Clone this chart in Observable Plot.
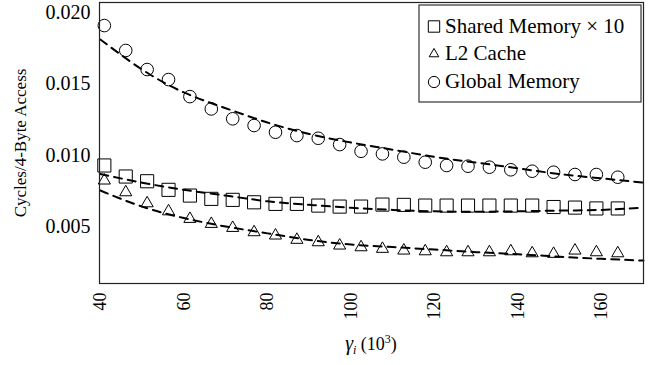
<!DOCTYPE html>
<html><head><meta charset="utf-8">
<script src="https://cdn.jsdelivr.net/npm/d3@7"></script>
<script src="https://cdn.jsdelivr.net/npm/@observablehq/plot@0.6"></script>
<style>
body{margin:0;background:#fff}
#chart{position:relative;width:662px;height:365px}
</style>
</head><body><div id="chart"></div>
<script>
// γ_i in units of 10^3
const gammaK = [40.96, 46.08, 51.2, 56.32, 61.44, 66.56, 71.68, 76.8, 81.92, 87.04, 92.16, 97.28, 102.4,
  107.52, 112.64, 117.76, 122.88, 128, 133.12, 138.24, 143.36, 148.48, 153.6, 158.72, 163.84];
const globalMem = [0.01907, 0.01733, 0.0160, 0.0153, 0.01411, 0.01325, 0.01256, 0.01209, 0.01162, 0.01139,
  0.0112, 0.01076, 0.01029, 0.01011, 0.00988, 0.00953, 0.0093, 0.00925, 0.00918, 0.0090, 0.0089, 0.00883,
  0.00867, 0.00867, 0.00848];
const sharedMemX10 = [0.0093, 0.00853, 0.0082, 0.0076, 0.0072, 0.00697, 0.0069, 0.00673, 0.00662, 0.00662,
  0.0065, 0.00643, 0.00643, 0.00657, 0.00655, 0.0065, 0.0065, 0.0065, 0.0065, 0.0065, 0.0065, 0.0064,
  0.00636, 0.0063, 0.0063];
const l2Cache = [0.00825, 0.00743, 0.00666, 0.0061, 0.00557, 0.00522, 0.00494, 0.00464, 0.00441, 0.00411,
  0.00394, 0.00371, 0.00359, 0.00348, 0.00336, 0.00331, 0.00324, 0.00324, 0.00324, 0.00331, 0.00317,
  0.00313, 0.00336, 0.00324, 0.00317];

// dashed fitted curves, read at these γ values
const fitX = [40, 50, 60, 70, 80, 90, 100, 110, 120, 130, 140, 150, 160, 170];
const globalFit = [0.0181, 0.0160, 0.0144, 0.0133, 0.0123, 0.0115, 0.0109, 0.0104, 0.0099, 0.0095, 0.0091, 0.0087, 0.0084, 0.0081];
const sharedFit = [0.0087, 0.0081, 0.0076, 0.0072, 0.0068, 0.00655, 0.00635, 0.0062, 0.0061, 0.00607, 0.0061, 0.00615, 0.0062, 0.00636];
const l2Fit = [0.00755, 0.00643, 0.00563, 0.00504, 0.00456, 0.0041, 0.00378, 0.0036, 0.00343, 0.00325, 0.0031, 0.00293, 0.00278, 0.00266];

const xTicks = [40, 60, 80, 100, 120, 140, 160];
const yTicks = [0.005, 0.010, 0.015, 0.020];
const seriesNames = ["Shared Memory \u00d7 10", "L2 Cache", "Global Memory"];
const yLabel = "Cycles/4-Byte Access";

const toRows = (ys, name) => ys.map((v, i) => ({x: gammaK[i], y: v, s: name}));
const fitRows = (ys, name) => ys.map((v, i) => ({x: fitX[i], y: v, s: name}));

const M = {top: 2, bottom: 82, left: 99, right: 19};
const W = 662, H = 365;
const FONT = "'Liberation Serif', 'Times New Roman', serif";

const plot = Plot.plot({
  width: W, height: H,
  marginTop: M.top, marginBottom: M.bottom, marginLeft: M.left, marginRight: M.right,
  style: {fontFamily: FONT, fontSize: "18px", color: "#000", background: "#fff"},
  x: {domain: [39.8, 170]},
  y: {domain: [0.00106, 0.02068]},
  marks: [
    Plot.axisY({ticks: yTicks, tickFormat: d => d.toFixed(3), tickSize: 0, tickPadding: 9, fontSize: 20, label: null}),
    Plot.axisX({ticks: xTicks, tickSize: 0, tickPadding: 9, tickRotate: -90, fontSize: 18, label: null}),
    Plot.line([...fitRows(globalFit, seriesNames[2]), ...fitRows(sharedFit, seriesNames[0]), ...fitRows(l2Fit, seriesNames[1])],
      {x: "x", y: "y", z: "s", stroke: "#000", strokeWidth: 2, strokeDasharray: "8,6", curve: "natural"}),
    Plot.dot(toRows(globalMem, seriesNames[2]), {x: "x", y: "y", symbol: "circle", r: 6.3, fill: "none", stroke: "#000", strokeWidth: 1}),
    Plot.dot(toRows(sharedMemX10, seriesNames[0]), {x: "x", y: "y", symbol: "square", r: 7.4, fill: "none", stroke: "#000", strokeWidth: 1}),
    Plot.dot(toRows(l2Cache, seriesNames[1]), {x: "x", y: "y", symbol: "triangle", r: 4.5, fill: "none", stroke: "#000", strokeWidth: 1}),
    Plot.frame({stroke: "#222", strokeWidth: 1.2}),
    Plot.text([yLabel], {frameAnchor: "left", textAnchor: "middle", rotate: -90, dx: -79, fontSize: 17, fill: "#000"})
  ]
});
document.getElementById("chart").appendChild(plot);

const svg = d3.select(plot);
// x-axis title: γ_i (10^3)
const cx = (M.left + (W - M.right)) / 2;
const xt = svg.append("text").attr("x", cx).attr("y", 350).attr("text-anchor", "middle")
  .attr("font-family", FONT).attr("font-size", 18).attr("fill", "#000");
xt.append("tspan").attr("font-style", "italic").attr("font-size", 20).text("\u03b3");
xt.append("tspan").attr("font-style", "italic").attr("font-size", 12).attr("dy", 4).text("i");
xt.append("tspan").attr("dy", -4).text(" (10");
xt.append("tspan").attr("font-size", 12).attr("dy", -7).text("3");
xt.append("tspan").attr("dy", 7).text(")");

// legend
const lg = svg.append("g");
lg.append("rect").attr("x", 419).attr("y", 5).attr("width", 222).attr("height", 97)
  .attr("fill", "#fff").attr("stroke", "#333").attr("stroke-width", 1.2);
const legendRows = [
  {name: seriesNames[0], sym: d3.symbolSquare, size: 130, base: 32.5},
  {name: seriesNames[1], sym: d3.symbolTriangle, size: 40, base: 60},
  {name: seriesNames[2], sym: d3.symbolCircle, size: 100, base: 88}
];
legendRows.forEach(r => {
  lg.append("path").attr("d", d3.symbol(r.sym, r.size)())
    .attr("transform", `translate(434,${r.base - 6})`)
    .attr("fill", "none").attr("stroke", "#000").attr("stroke-width", 1);
  lg.append("text").attr("x", 445).attr("y", r.base).attr("text-anchor", "start")
    .attr("font-family", FONT).attr("font-size", 21).attr("fill", "#000").text(r.name);
});
</script>
</body></html>
